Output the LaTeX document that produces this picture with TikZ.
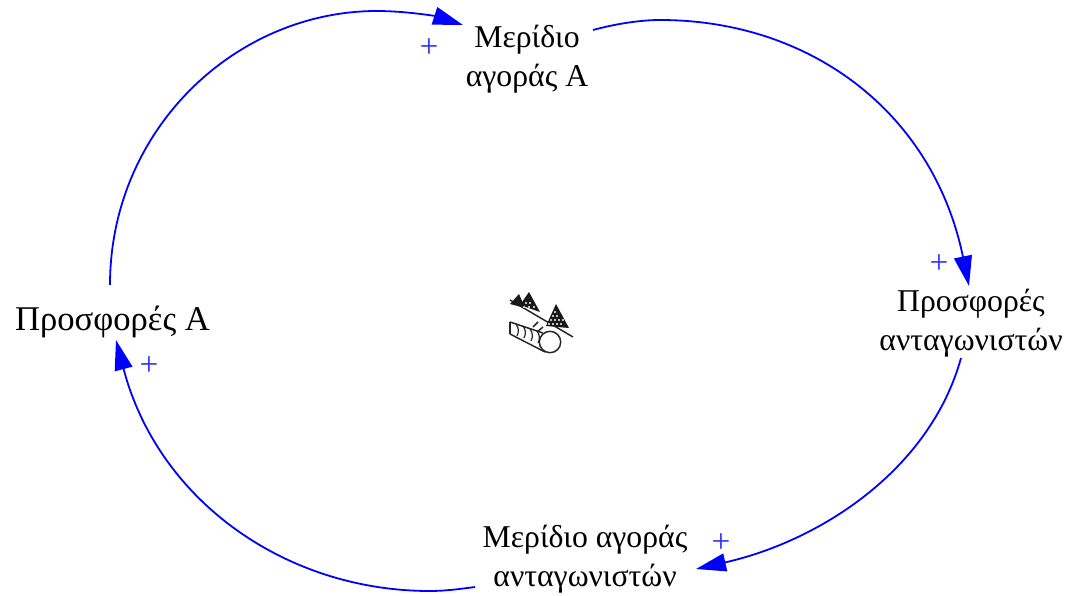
\documentclass[tikz,border=0pt]{standalone}
\usepackage{fontspec}
\setmainfont{Liberation Serif}
\usetikzlibrary{arrows.meta}
\tikzset{
 lab/.style={align=center,inner sep=0pt,outer sep=0pt,font=\fontsize{23.8}{29}\selectfont,text=black},
 plus/.style={inner sep=0pt,font=\fontsize{25}{26}\selectfont,text=blue!80!white},
 conn/.style={draw=blue,line width=1.35pt,-{Triangle[length=22.5pt,width=13.5pt]}},
 icon/.style={draw=black!85,line width=1.1pt}
}
\begin{document}
\begin{tikzpicture}[x=0.75pt,y=-0.75pt]
\useasboundingbox (0,0) rectangle (1068,596);
\node[lab] (ma) at (527,59.5) {Μερίδιο\\αγοράς Α};
\node[lab] (pa) at (971,323.5) {Προσφορές\\ανταγωνιστών};
\node[lab] (mb) at (585,559.5) {Μερίδιο αγοράς\\ανταγωνιστών};
\node[lab,font=\fontsize{26}{30}\selectfont] (pb) at (112.5,322) {Προσφορές Α};
\node[plus] (p1) at (429,48) {+};
\node[plus] (p2) at (939,264) {+};
\node[plus] (p3) at (721,543) {+};
\node[plus] (p4) at (149,366) {+};
\draw[conn] ([shift={(-2.5,-37)}]pb.center) .. controls (110,130) and (235,11) .. (377,11)
  .. controls (405,11) and (435,16) .. ([shift={(-64,-34.5)}]ma.center);
\draw[conn] ([shift={(66,-29.5)}]ma.center) .. controls (615,24) and (640,20) .. (660,20)
  .. controls (810,20) and (933,112) .. ([shift={(-2,-37.5)}]pa.center);
\draw[conn] ([shift={(-10,34.5)}]pa.center) .. controls (930,470) and (820,541) .. ([shift={(111,9.5)}]mb.center);
\draw[conn] ([shift={(-110,27.5)}]mb.center) .. controls (460,589) and (445,591) .. (430,591)
  .. controls (285,591) and (158,500) .. ([shift={(3.5,18)}]pb.center);
% icon
\draw[icon] (510,300) -- (573,337);
\fill[black!90] (510,304) -- (519,294) -- (525,308) -- cycle;
\fill[black!90] (520,305) -- (529,292) -- (540,312) -- cycle;
\fill[black!90] (546,326) -- (556,304) -- (569,328) -- cycle;
\foreach \x/\y in {526/303,530/303,534/307,529/307,524/307,551/320,555/320,559/320,553/324,557/324,561/324,549/324,563/320,553/316,557/316,555/312}
  {\fill[white!75!black] (\x-0.8,\y-0.8) rectangle (\x+0.8,\y+0.8);}
\draw[icon] (550,342) circle (10.7);
\draw[icon] (510,322) -- (543,333);
\draw[icon] (510,334) -- (545,352);
\draw[icon] (510,322) -- (510,334);
\foreach \a/\b in {516/324,523/326,530/329,537/331}
  {\draw[icon,line width=0.9pt] (\a,\b) .. controls (\a+3,\b+4) and (\a+3,\b+8) .. (\a+1,\b+12);}
\draw[icon] (533,327) -- (538,322);
\draw[icon] (537,332) -- (543,327);
\end{tikzpicture}
\end{document}
